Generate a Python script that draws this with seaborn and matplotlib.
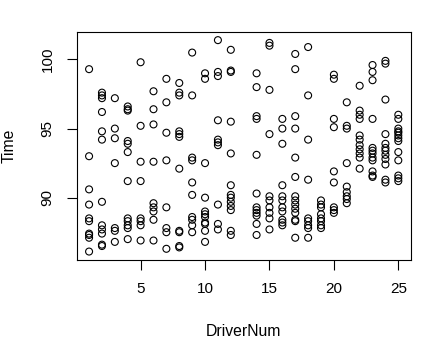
import matplotlib
matplotlib.use("Agg")
import matplotlib.pyplot as plt
import seaborn as sns
import pandas as pd

# Times for each driver (driver 13 has no observations)
d01 = [99.3, 93.0, 90.6, 89.5, 88.5, 88.3, 87.4, 87.3, 87.1, 86.1]
d02 = [97.6, 97.4, 97.2, 96.2, 94.8, 94.2, 89.7, 88.0, 87.7, 87.4, 86.6, 86.5]
d03 = [97.2, 95.0, 94.3, 92.5, 87.8, 87.6, 86.8]
d04 = [96.6, 96.4, 96.3, 94.1, 93.9, 93.3, 91.2, 88.5, 88.3, 88.0, 87.8, 87.0]
d05 = [99.8, 95.2, 92.6, 91.2, 88.5, 88.3, 88.0, 86.9]
d06 = [97.7, 96.4, 95.3, 92.6, 89.6, 89.3, 89.0, 88.4, 86.9]
d07 = [98.6, 96.9, 94.7, 92.7, 89.3, 87.8, 87.5, 86.3]
d08 = [98.3, 97.6, 97.4, 94.8, 94.6, 94.4, 92.1, 87.6, 87.5, 86.5, 86.4]
d09 = [100.5, 97.4, 92.9, 92.7, 91.1, 90.2, 88.6, 88.4, 88.0, 87.5]
d10 = [99.0, 98.6, 92.5, 90.0, 89.0, 88.8, 88.6, 88.2, 88.1, 87.6, 86.8]
d11 = [101.4, 99.1, 98.8, 95.6, 94.2, 94.0, 93.8, 89.5, 88.1, 87.7]
d12 = [100.7, 99.2, 99.1, 95.5, 93.2, 90.9, 90.2, 90.0, 89.7, 89.4, 89.1, 87.6, 87.3]
d14 = [99.0, 98.0, 95.9, 95.7, 93.1, 90.3, 89.3, 89.1, 88.9, 88.7, 88.1, 87.3]
d15 = [101.2, 101.0, 97.8, 94.6, 90.1, 89.8, 89.3, 88.9, 88.5, 87.7]
d16 = [95.7, 95.0, 93.9, 90.9, 90.1, 89.8, 89.3, 89.0, 88.4, 88.2, 88.0]
d17 = [100.4, 99.3, 95.9, 95.0, 92.9, 91.5, 90.1, 89.8, 89.5, 89.2, 88.9, 88.4, 88.3, 87.1]
d18 = [100.9, 97.4, 94.2, 91.3, 88.5, 88.3, 88.0, 87.8, 87.1]
d19 = [89.8, 89.5, 89.3, 88.8, 88.5, 88.3, 88.0, 87.8]
d20 = [98.9, 98.6, 95.7, 95.1, 91.9, 91.1, 89.3, 89.1, 88.9]
d21 = [96.9, 95.2, 95.0, 92.5, 90.8, 90.4, 90.1, 89.9, 89.6]
d22 = [98.1, 96.3, 96.0, 95.7, 94.5, 94.2, 93.8, 93.5, 93.2, 92.9, 92.1]
d23 = [99.6, 99.1, 98.5, 95.7, 93.6, 93.4, 93.2, 92.9, 92.7, 91.9, 91.6, 91.5]
d24 = [99.9, 99.7, 97.1, 94.6, 93.9, 93.6, 93.4, 93.1, 92.8, 92.4, 91.3, 91.1]
d25 = [96.0, 95.7, 95.0, 94.8, 94.7, 94.5, 94.3, 94.1, 93.3, 92.7, 91.6, 91.4, 91.2]

driver_ids = [1, 2, 3, 4, 5, 6, 7, 8, 9, 10, 11, 12, 14, 15, 16, 17, 18, 19, 20, 21, 22, 23, 24, 25]
driver_times = [d01, d02, d03, d04, d05, d06, d07, d08, d09, d10, d11, d12,
                d14, d15, d16, d17, d18, d19, d20, d21, d22, d23, d24, d25]

x_ticks = [5, 10, 15, 20, 25]
y_ticks = [90, 95, 100]

rows = []
for d, ts in zip(driver_ids, driver_times):
    for t in ts:
        rows.append({"DriverNum": d, "Time": t})
df = pd.DataFrame(rows)

sns.set_theme(style="white")
plt.rcParams["font.family"] = ["Liberation Sans", "DejaVu Sans"]

fig = plt.figure(figsize=(4.29, 3.54), dpi=100)
ax = fig.add_axes([0.1788, 0.2655, 0.9573 - 0.1788, 0.9105 - 0.2655])

sns.scatterplot(data=df, x="DriverNum", y="Time", ax=ax, marker="o",
                facecolor="none", edgecolor="black", linewidth=0.8, s=25)

xmin, xmax = 1, 25
ymin, ymax = df["Time"].min(), df["Time"].max()
xr = xmax - xmin
yr = ymax - ymin
ax.set_xlim(xmin - 0.04 * xr, xmax + 0.04 * xr)
ax.set_ylim(ymin - 0.04 * yr, ymax + 0.04 * yr)

ax.set_xticks(x_ticks)
ax.set_yticks(y_ticks)
ax.set_xticklabels([str(v) for v in x_ticks])
ax.set_yticklabels([str(v) for v in y_ticks], rotation=90, va="center")

for sp in ax.spines.values():
    sp.set_visible(True)
    sp.set_color("black")
    sp.set_linewidth(0.8)

ax.tick_params(axis="both", which="major", direction="out", length=7.5, width=0.8,
               color="black", labelsize=11, labelcolor="black", bottom=True, left=True)
ax.tick_params(axis="x", pad=8.5)
ax.tick_params(axis="y", pad=8.5)

ax.set_xlabel("DriverNum", fontsize=11.3, color="black")
ax.set_ylabel("Time", fontsize=11.3, color="black")
ax.xaxis.set_label_coords(0.5, (260 - 331) / 228.3)
ax.xaxis.label.set_va("center")
ax.yaxis.set_label_coords((9 - 76.7) / 334.0, 0.5)
ax.yaxis.label.set_va("center")

fig.savefig("out.png", dpi=100, facecolor="white")
